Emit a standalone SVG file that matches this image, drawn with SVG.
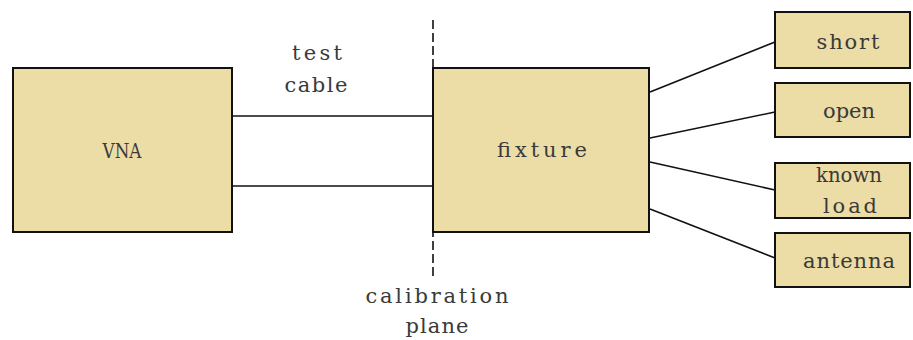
<svg xmlns="http://www.w3.org/2000/svg" width="913" height="340" viewBox="0 0 913 340">
<style>
.box{fill:#ecdca6;stroke:#111;stroke-width:2}
.ln{stroke:#111;stroke-width:1.6;fill:none}
.t{font-family:"DejaVu Serif","Liberation Serif",serif;font-size:21px;fill:#3a3a3a;text-anchor:middle}
</style>
<rect width="913" height="340" fill="#fff"/>
<g id="connectors">
<line class="ln" x1="232" y1="116" x2="433" y2="116"/>
<line class="ln" x1="232" y1="186" x2="433" y2="186"/>
<line class="ln" x1="650" y1="92" x2="775" y2="42"/>
<line class="ln" x1="650" y1="138" x2="775" y2="112"/>
<line class="ln" x1="650" y1="162" x2="775" y2="190"/>
<line class="ln" x1="650" y1="209" x2="775" y2="258"/>
<line class="ln" x1="433" y1="20" x2="433" y2="280" stroke-dasharray="9,4"/>
</g>
<g id="vna"><rect class="box" x="13" y="68" width="219" height="164"/><text class="t" x="122" y="158" textLength="39" lengthAdjust="spacingAndGlyphs">VNA</text></g>
<g id="fixture"><rect class="box" x="433" y="68" width="216" height="164"/><text class="t" x="542" y="157" textLength="90" lengthAdjust="spacing">fixture</text></g>
<g id="short"><rect class="box" x="775" y="12" width="135" height="56"/><text class="t" x="848" y="49" textLength="63" lengthAdjust="spacing">short</text></g>
<g id="open"><rect class="box" x="775" y="83" width="135" height="54"/><text class="t" x="849" y="118" textLength="52" lengthAdjust="spacing">open</text></g>
<g id="known-load"><rect class="box" x="775" y="163" width="135" height="55"/><text class="t" x="849" y="182" textLength="66" lengthAdjust="spacingAndGlyphs">known</text><text class="t" x="850" y="213" textLength="54" lengthAdjust="spacing">load</text></g>
<g id="antenna"><rect class="box" x="775" y="233" width="135" height="54"/><text class="t" x="849" y="268" textLength="92" lengthAdjust="spacing">antenna</text></g>
<g id="labels">
<text class="t" x="317" y="60" textLength="50" lengthAdjust="spacing">test</text>
<text class="t" x="316" y="92" textLength="63" lengthAdjust="spacing">cable</text>
<text class="t" x="437" y="303" textLength="143" lengthAdjust="spacing">calibration</text>
<text class="t" x="437" y="333" textLength="63" lengthAdjust="spacing">plane</text>
</g>
</svg>
